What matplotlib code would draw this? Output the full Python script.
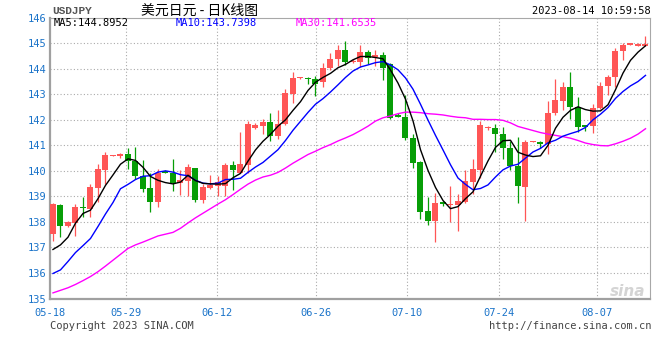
import matplotlib
matplotlib.use('Agg')
import numpy as np
import matplotlib.pyplot as plt

# USDJPY daily candles (05-18 .. 08-14)
opens = [137.52, 138.66, 137.85, 137.95, 138.59, 138.50, 139.32, 140.04, 140.59, 140.58,
         140.65, 140.39, 139.78, 139.32, 138.79, 140.00, 139.93, 139.52, 139.61, 140.10,
         138.86, 139.32, 139.39, 139.39, 140.22, 139.93, 140.22, 141.69, 141.75, 141.93,
         141.36, 141.82, 143.03, 143.62, 143.64, 143.60, 143.47, 144.04, 144.39, 144.75,
         144.25, 144.25, 144.66, 144.45, 144.55, 144.19, 142.17, 142.12, 141.30, 140.36,
         138.42, 138.04, 138.74, 138.66, 138.66, 138.79, 139.57, 140.04, 141.68, 141.69,
         141.43, 140.91, 140.19, 139.37, 141.13, 141.14, 141.04, 142.28, 142.73, 143.29,
         142.51, 141.78, 141.75, 142.45, 143.32, 143.67, 144.68, 144.94, 144.91, 144.91]
highs = [138.76, 138.70, 138.05, 138.70, 138.96, 139.48, 140.26, 140.74, 140.63, 140.71,
         140.91, 140.95, 140.41, 139.93, 140.06, 140.03, 140.45, 140.02, 140.26, 140.12,
         139.50, 139.83, 139.80, 140.32, 140.39, 141.52, 141.95, 141.86, 142.04, 142.25,
         142.37, 143.21, 143.88, 143.66, 143.66, 143.73, 144.23, 144.62, 144.92, 145.10,
         144.38, 144.95, 144.72, 144.72, 144.66, 144.22, 142.25, 142.99, 141.46, 140.38,
         138.96, 139.15, 138.82, 139.39, 139.11, 140.04, 140.48, 141.95, 141.75, 141.85,
         141.73, 141.17, 141.34, 141.21, 141.16, 141.16, 142.73, 143.58, 143.49, 143.88,
         142.90, 141.80, 142.60, 143.49, 143.77, 144.82, 145.01, 144.97, 145.00, 145.27]
lows = [137.26, 137.39, 137.82, 137.46, 138.21, 138.20, 138.79, 139.48, 140.57, 140.52,
        140.06, 139.70, 139.18, 138.39, 138.60, 139.92, 139.21, 139.05, 139.02, 138.79,
        138.76, 139.28, 139.02, 139.00, 139.25, 139.90, 139.91, 141.65, 141.43, 141.17,
        141.26, 141.80, 142.64, 143.60, 143.42, 142.93, 143.28, 143.94, 144.10, 144.16,
        144.22, 144.07, 144.20, 144.10, 143.55, 142.04, 142.10, 141.21, 140.13, 138.11,
        137.89, 137.22, 138.62, 137.98, 137.65, 138.75, 139.09, 139.74, 141.62, 140.74,
        140.45, 140.04, 138.76, 138.04, 141.12, 140.91, 140.65, 142.18, 142.38, 142.04,
        141.52, 141.56, 141.50, 142.42, 142.97, 143.28, 144.36, 144.93, 144.88, 144.88]
closes = [138.70, 137.85, 137.98, 138.59, 138.53, 139.37, 140.06, 140.61, 140.61, 140.66,
          140.39, 139.78, 139.28, 138.79, 139.93, 139.93, 139.52, 139.64, 140.14, 138.86,
          139.37, 139.45, 139.58, 140.22, 140.02, 140.25, 141.82, 141.78, 141.93, 141.36,
          141.85, 143.06, 143.64, 143.64, 143.58, 143.42, 144.04, 144.40, 144.75, 144.25,
          144.32, 144.66, 144.43, 144.55, 144.01, 142.08, 142.12, 141.27, 140.30, 138.39,
          138.04, 138.73, 138.72, 138.70, 138.80, 139.61, 140.06, 141.78, 141.70, 141.43,
          140.91, 140.19, 139.41, 141.14, 141.15, 141.04, 142.25, 142.76, 143.29, 142.50,
          141.73, 141.71, 142.47, 143.34, 143.68, 144.71, 144.95, 144.96, 144.97, 144.98]

# moving average lines as drawn on the chart
ma5 = [136.92, 137.10, 137.40, 137.95, 138.33, 138.46, 138.91, 139.43, 139.84, 140.26,
       140.47, 140.41, 140.14, 139.78, 139.63, 139.54, 139.49, 139.56, 139.83, 139.62,
       139.51, 139.49, 139.48, 139.50, 139.73, 139.90, 140.38, 140.82, 141.16, 141.43,
       141.75, 142.00, 142.37, 142.71, 143.15, 143.47, 143.66, 143.82, 144.04, 144.17,
       144.35, 144.48, 144.48, 144.44, 144.39, 143.95, 143.44, 142.81, 141.96, 140.83,
       140.02, 139.35, 138.84, 138.52, 138.60, 138.91, 139.18, 139.79, 140.39, 140.92,
       141.18, 141.20, 140.73, 140.62, 140.56, 140.59, 141.00, 141.67, 142.10, 142.37,
       142.51, 142.40, 142.34, 142.35, 142.59, 143.18, 143.83, 144.33, 144.65, 144.90]
ma10 = [135.98, 136.12, 136.45, 136.80, 137.07, 137.35, 137.82, 138.31, 138.76, 139.30,
        139.47, 139.66, 139.79, 139.81, 139.95, 140.00, 139.95, 139.85, 139.81, 139.63,
        139.52, 139.49, 139.52, 139.66, 139.67, 139.71, 139.94, 140.15, 140.33, 140.58,
        140.83, 141.19, 141.59, 141.94, 142.29, 142.61, 142.83, 143.09, 143.37, 143.66,
        143.91, 144.07, 144.15, 144.24, 144.28, 144.15, 143.96, 143.64, 143.20, 142.61,
        141.99, 141.39, 140.82, 140.24, 139.72, 139.47, 139.26, 139.31, 139.45, 139.76,
        140.04, 140.19, 140.26, 140.50, 140.74, 140.88, 141.10, 141.20, 141.36, 141.46,
        141.55, 141.70, 142.00, 142.22, 142.48, 142.84, 143.11, 143.33, 143.50, 143.74]
ma30 = [135.22, 135.32, 135.42, 135.55, 135.70, 135.86, 136.05, 136.27, 136.50, 136.73,
        136.96, 137.10, 137.21, 137.33, 137.45, 137.52, 137.59, 137.75, 137.96, 138.16,
        138.34, 138.52, 138.70, 138.87, 139.07, 139.28, 139.48, 139.64, 139.76, 139.83,
        139.94, 140.11, 140.30, 140.47, 140.64, 140.77, 140.91, 141.03, 141.17, 141.29,
        141.42, 141.58, 141.75, 141.95, 142.08, 142.15, 142.24, 142.30, 142.30, 142.28,
        142.24, 142.22, 142.19, 142.14, 142.10, 142.08, 142.02, 142.02, 142.01, 142.01,
        141.98, 141.88, 141.74, 141.66, 141.58, 141.50, 141.44, 141.39, 141.34, 141.28,
        141.19, 141.09, 141.03, 140.99, 140.98, 141.06, 141.16, 141.28, 141.44, 141.65]

date_ticks = [-0.33, 9.69, 21.83, 35.03, 47.16, 59.47, 72.49]
date_labels = ['05-18', '05-29', '06-12', '06-26', '07-10', '07-24', '08-07']
price_ticks = list(range(135, 147))

RED = '#ff5656'
GREEN = '#079e07'
BLUE_TXT = '#1a73c9'
GRID = '#aaaaaa'

W, H = 660, 360
fig = plt.figure(figsize=(W / 100, H / 100), dpi=100)
ax = fig.add_axes([50.5 / W, 1 - 298.5 / H, (650 - 50.5) / W, (298.5 - 17.7) / H])

o = np.array(opens); c = np.array(closes)
h = np.array(highs); l = np.array(lows)
x = np.arange(len(c))
cols = np.where(c >= o, RED, GREEN)

# grid
for p in price_ticks[1:-1]:
    ax.axhline(p, color=GRID, lw=0.8, ls=(0, (1, 2)), zorder=0)
for t in date_ticks[1:]:
    ax.axvline(t, color=GRID, lw=0.8, ls=(0, (1, 2)), zorder=0)

# candles
ax.vlines(x, l, h, colors=cols, lw=0.9, zorder=2)
body_lo = np.minimum(o, c)
body_h = np.maximum(np.abs(c - o), 0.05)
ax.bar(x, body_h, 0.8, bottom=body_lo, color=cols, linewidth=0, zorder=3)

# moving averages
ax.plot(x, ma30, color='#ff00ff', lw=1.0, zorder=4)
ax.plot(x, ma10, color='#0000ff', lw=1.0, zorder=4)
ax.plot(x, ma5, color='black', lw=1.0, zorder=5)

ax.set_xlim(-0.33, 79.6)
ax.set_ylim(135, 146)
ax.set_yticks(price_ticks)
ax.set_yticklabels([str(p) for p in price_ticks], color=BLUE_TXT,
                   fontsize=7.5, family='DejaVu Sans Mono')
ax.set_xticks(date_ticks)
ax.set_xticklabels(date_labels, color=BLUE_TXT, fontsize=7.5, family='DejaVu Sans Mono')
ax.tick_params(length=0)
ax.tick_params(axis='y', pad=3)
ax.tick_params(axis='x', pad=7)
for side in ['top', 'right']:
    ax.spines[side].set_color('#a8a8a8')
    ax.spines[side].set_linewidth(0.8)
for side in ['left', 'bottom']:
    ax.spines[side].set_color('#a0a0a0')
    ax.spines[side].set_linewidth(1.6)

def px(xp, yp):
    return xp / W, 1 - yp / H

mono = 'DejaVu Sans Mono'
fig.text(*px(52, 11), 'USDJPY', fontsize=8, family='Liberation Mono', weight='bold',
         color='#555555', va='center')
fig.text(*px(141, 11), '美元日元 - 日K线图', fontsize=10,
         family=['Noto Sans CJK SC', 'DejaVu Sans'], color='black', va='center')
fig.text(*px(651, 11), '2023-08-14 10:59:58', fontsize=7.5, family=mono,
         color='black', va='center', ha='right')
fig.text(*px(54, 23), 'MA5:144.8952', fontsize=7.5, family=mono, color='black', va='center')
fig.text(*px(176, 23), 'MA10:143.7398', fontsize=7.5, family=mono, color='#0000ff', va='center')
fig.text(*px(296, 23), 'MA30:141.6535', fontsize=7.5, family=mono, color='#ff00ff', va='center')
fig.text(*px(50, 326), 'Copyright 2023 SINA.COM', fontsize=7.5, family=mono,
         color='#444444', va='center')
fig.text(*px(651, 326), 'http://finance.sina.com.cn', fontsize=7.5, family=mono,
         color='#444444', va='center', ha='right')
fig.text(*px(645, 291), 'sina', fontsize=11, weight='bold', style='italic',
         color='#d4d4d4', va='center', ha='right', zorder=1)

fig.savefig('out.png', dpi=100)
